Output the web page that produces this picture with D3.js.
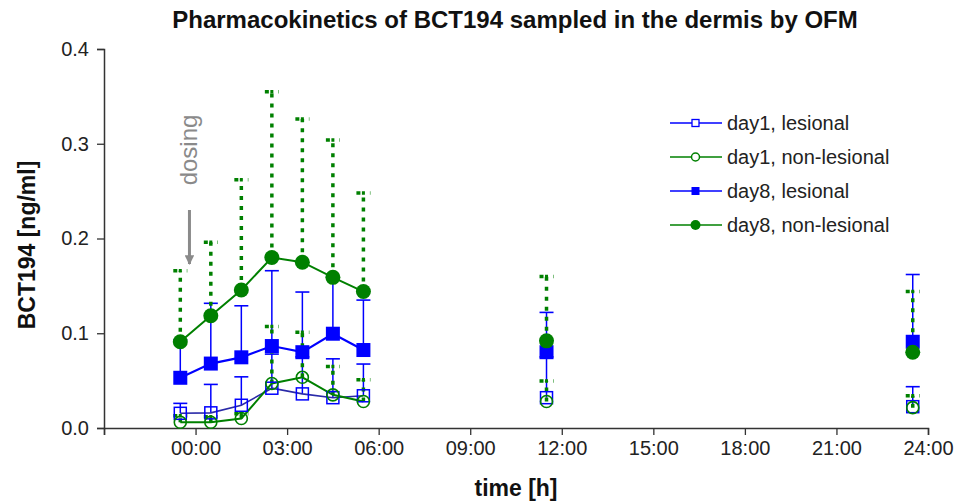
<!DOCTYPE html>
<html>
<head>
<meta charset="utf-8">
<script src="https://cdn.jsdelivr.net/npm/d3@7"></script>
<style>
  body { margin: 0; background: #fff; }
  svg { display: block; font-family: "Liberation Sans", Arial, sans-serif; }
</style>
</head>
<body>
<svg id="chart" width="965" height="502"></svg>
<script>
// ---- data ----
const times = [-0.5, 0.5, 1.5, 2.5, 3.5, 4.5, 5.5, 11.5, 23.5];
const day1Lesional      = [0.0155, 0.016, 0.024, 0.042, 0.036, 0.032, 0.034, 0.032, 0.0225];
const day1LesionalUpper = [0.026, 0.046, 0.054, 0.078, 0.075, 0.073, 0.0675, 0.075, 0.0436];
const day1NonLes        = [0.006, 0.006, 0.010, 0.047, 0.0535, 0.035, 0.028, 0.028, 0.0215];
const day1NonLesUpper   = [0.013, 0.012, 0.015, 0.107, 0.101, 0.065, 0.051, 0.0496, 0.034];
const day8Lesional      = [0.053, 0.068, 0.0746, 0.0865, 0.080, 0.0995, 0.0823, 0.080, 0.091];
const day8LesionalUpper = [0.093, 0.1316, 0.129, 0.166, 0.1435, 0.16, 0.135, 0.122, 0.162];
const day8NonLes        = [0.091, 0.1185, 0.1456, 0.180, 0.175, 0.159, 0.144, 0.092, 0.080];
const day8NonLesUpper   = [0.166, 0.196, 0.262, 0.355, 0.326, 0.304, 0.248, 0.160, 0.144];
const connectedCount = 7; // first 7 samples are joined by lines
const xTickValues = [-3, 0, 3, 6, 9, 12, 15, 18, 21, 24];
const xTickLabels = ["", "00:00", "03:00", "06:00", "09:00", "12:00", "15:00", "18:00", "21:00", "24:00"];
const yTickValues = [0, 0.1, 0.2, 0.3, 0.4];
const legendLabels = ["day1, lesional", "day1, non-lesional", "day8, lesional", "day8, non-lesional"];
const titleText = "Pharmacokinetics of BCT194 sampled in the dermis by OFM";
const xTitle = "time [h]";
const yTitle = "BCT194 [ng/ml]";

// ---- setup ----
const BLUE = "#0000ff", GREEN = "#008000", AXIS = "#333";
const svg = d3.select("#chart");
const x = d3.scaleLinear().domain([-3, 24]).range([104, 928]);
const y = d3.scaleLinear().domain([0, 0.4]).range([428, 49]);

// title
svg.append("text").attr("x", 515).attr("y", 28).attr("text-anchor", "middle")
  .attr("font-size", 24).attr("font-weight", "bold").attr("fill", "#111").text(titleText);

// axes
const xAxis = d3.axisBottom(x).tickValues(xTickValues)
  .tickFormat((d, i) => xTickLabels[i]).tickSizeOuter(0).tickSize(7).tickPadding(6);
const gx = svg.append("g").attr("transform", `translate(0,${y(0)})`).call(xAxis);
gx.select(".domain").attr("stroke", AXIS).attr("stroke-width", 1.5);
gx.selectAll(".tick line").attr("stroke", AXIS).attr("stroke-width", 1.3);
gx.selectAll(".tick text").attr("font-size", 20).attr("fill", "#222")
  .attr("font-family", "'Liberation Sans', Arial, sans-serif");

const yAxis = d3.axisLeft(y).tickValues(yTickValues).tickFormat(d3.format(".1f"))
  .tickSizeOuter(0).tickSize(7).tickPadding(8);
const gy = svg.append("g").attr("transform", `translate(${x(-3)},0)`).call(yAxis);
gy.select(".domain").attr("stroke", AXIS).attr("stroke-width", 1.5);
gy.selectAll(".tick line").attr("stroke", AXIS).attr("stroke-width", 1.3);
gy.selectAll(".tick text").attr("font-size", 20).attr("fill", "#222")
  .attr("font-family", "'Liberation Sans', Arial, sans-serif");

// axis titles
svg.append("text").attr("x", 516).attr("y", 496).attr("text-anchor", "middle")
  .attr("font-size", 23).attr("font-weight", "bold").attr("fill", "#111").text(xTitle);
svg.append("text").attr("transform", "translate(35,245) rotate(-90)").attr("text-anchor", "middle")
  .attr("font-size", 23).attr("font-weight", "bold").attr("fill", "#111").text(yTitle);

// dosing annotation
svg.append("text").attr("transform", `translate(${x(-0.2) + 8},150) rotate(-90)`)
  .attr("text-anchor", "middle").attr("font-size", 24).attr("fill", "#8a8a8a").text("dosing");
svg.append("defs").append("marker").attr("id", "arr").attr("viewBox", "0 0 10 10")
  .attr("refX", 9).attr("refY", 5).attr("markerWidth", 3.2).attr("markerHeight", 3.2)
  .attr("orient", "auto").append("path").attr("d", "M0,0 L10,5 L0,10 Z").attr("fill", "#8a8a8a");
svg.append("line").attr("x1", x(-0.2)).attr("x2", x(-0.2)).attr("y1", 210).attr("y2", 264)
  .attr("stroke", "#8a8a8a").attr("stroke-width", 3).attr("marker-end", "url(#arr)");

// error bars
function errorBars(vals, ups, color, dashed, width) {
  const g = svg.append("g");
  times.forEach((t, i) => {
    const cx = x(t);
    g.append("line").attr("x1", cx).attr("x2", cx).attr("y1", y(vals[i])).attr("y2", y(ups[i]))
      .attr("stroke", color).attr("stroke-width", width)
      .attr("stroke-dasharray", dashed ? "4,6" : null);
    g.append("line").attr("x1", cx - 7).attr("x2", cx + 7).attr("y1", y(ups[i])).attr("y2", y(ups[i]))
      .attr("stroke", color).attr("stroke-width", dashed ? 3.5 : 1.6)
      .attr("stroke-dasharray", dashed ? "4,1.5,3,5" : null);
  });
}
errorBars(day1Lesional, day1LesionalUpper, BLUE, false, 1.5);
errorBars(day8Lesional, day8LesionalUpper, BLUE, false, 1.5);
errorBars(day1NonLes, day1NonLesUpper, GREEN, true, 3.5);
errorBars(day8NonLes, day8NonLesUpper, GREEN, true, 3.5);

// lines
const line = d3.line().x(d => x(d[0])).y(d => y(d[1]));
function seriesLine(vals, color, w) {
  const pts = times.slice(0, connectedCount).map((t, i) => [t, vals[i]]);
  svg.append("path").attr("d", line(pts)).attr("fill", "none").attr("stroke", color).attr("stroke-width", w);
}
seriesLine(day1Lesional, "#2a2aa8", 1.6);
seriesLine(day1NonLes, GREEN, 2);
seriesLine(day8Lesional, BLUE, 2.2);
seriesLine(day8NonLes, GREEN, 2);

// markers
function squares(vals, size, filled) {
  svg.append("g").selectAll("rect").data(times).join("rect")
    .attr("x", (t) => x(t) - size / 2).attr("y", (t, i) => y(vals[i]) - size / 2)
    .attr("width", size).attr("height", size)
    .attr("fill", filled ? BLUE : "none").attr("stroke", BLUE).attr("stroke-width", filled ? 0 : 1.5);
}
function circles(vals, r, filled) {
  svg.append("g").selectAll("circle").data(times).join("circle")
    .attr("cx", (t) => x(t)).attr("cy", (t, i) => y(vals[i])).attr("r", r)
    .attr("fill", filled ? GREEN : "none").attr("stroke", GREEN).attr("stroke-width", filled ? 0 : 1.6);
}
squares(day1Lesional, 12, false);
circles(day1NonLes, 6, false);
squares(day8Lesional, 14, true);
circles(day8NonLes, 7.5, true);

// legend
const legendColors = [BLUE, GREEN, BLUE, GREEN];
const lg = svg.append("g");
legendLabels.forEach((lab, i) => {
  const ly = 123 + i * 34;
  lg.append("line").attr("x1", 670).attr("x2", 722).attr("y1", ly).attr("y2", ly)
    .attr("stroke", legendColors[i]).attr("stroke-width", 1.5);
  if (i === 0) lg.append("rect").attr("x", 692).attr("y", ly - 3.5).attr("width", 7).attr("height", 7)
      .attr("fill", "#fff").attr("stroke", BLUE).attr("stroke-width", 1.3);
  if (i === 1) lg.append("circle").attr("cx", 695.5).attr("cy", ly).attr("r", 4)
      .attr("fill", "#fff").attr("stroke", GREEN).attr("stroke-width", 1.5);
  if (i === 2) lg.append("rect").attr("x", 691.5).attr("y", ly - 4).attr("width", 8).attr("height", 8)
      .attr("fill", BLUE);
  if (i === 3) lg.append("circle").attr("cx", 695.5).attr("cy", ly).attr("r", 5).attr("fill", GREEN);
  lg.append("text").attr("x", 727).attr("y", ly + 7).attr("font-size", 20).attr("fill", "#222").text(lab);
});
</script>
</body>
</html>
